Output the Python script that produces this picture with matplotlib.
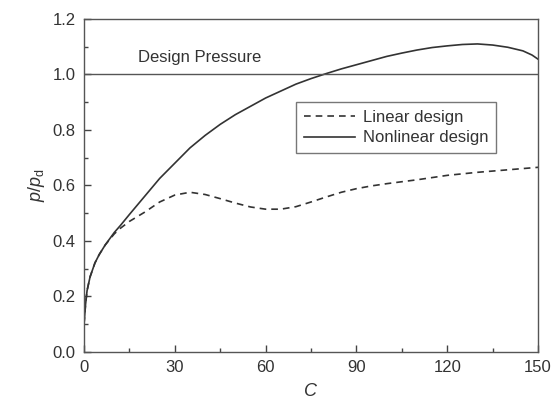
import matplotlib
matplotlib.use("Agg")
import matplotlib.pyplot as plt
import numpy as np

plt.rcParams['font.family'] = ['Liberation Sans', 'DejaVu Sans']
plt.rcParams['mathtext.fontset'] = 'custom'
plt.rcParams['mathtext.it'] = 'Liberation Sans:italic'
plt.rcParams['mathtext.rm'] = 'Liberation Sans'

# Nonlinear design (solid)
c_nonlin = [0, 0.5, 1, 2, 3.6, 5, 7, 10, 12, 15, 20, 25, 30, 35, 40, 45, 50, 55, 60, 65,
            70, 75, 80, 85, 90, 95, 100, 105, 110, 115, 120, 125, 130, 135, 140, 145, 148, 150]
p_nonlin = [0.10, 0.17, 0.22, 0.27, 0.32, 0.35, 0.385, 0.43, 0.455, 0.495, 0.56, 0.625,
            0.68, 0.735, 0.78, 0.82, 0.855, 0.885, 0.915, 0.94, 0.965, 0.985, 1.003, 1.02,
            1.035, 1.05, 1.065, 1.077, 1.088, 1.097, 1.103, 1.108, 1.11, 1.106, 1.098,
            1.085, 1.07, 1.055]

# Linear design (dashed)
c_lin = [0, 0.5, 1, 2, 3.6, 5, 7, 10, 12, 15, 20, 25, 30, 35, 40, 45, 50, 55, 60, 65,
         70, 75, 80, 85, 90, 95, 100, 110, 120, 130, 140, 150]
p_lin = [0.10, 0.17, 0.22, 0.27, 0.32, 0.35, 0.385, 0.425, 0.445, 0.47, 0.503, 0.54,
         0.565, 0.575, 0.567, 0.552, 0.536, 0.522, 0.514, 0.514, 0.523, 0.54, 0.558,
         0.575, 0.588, 0.598, 0.606, 0.62, 0.636, 0.647, 0.656, 0.665]

design_pressure = 1.0

fig = plt.figure(figsize=(5.51, 4.03), dpi=100)
ax = fig.add_axes([0.1525, 0.1273, 0.824, 0.8256])

ax.plot(c_lin, p_lin, color='#333333', lw=1.2, ls=(0, (4, 3)), label='Linear design')
ax.plot(c_nonlin, p_nonlin, color='#333333', lw=1.2, ls='-', label='Nonlinear design')
ax.axhline(design_pressure, color='#555555', lw=1.0)
ax.text(17.8, 1.035, 'Design Pressure', fontsize=12, color='#333333', va='bottom', ha='left')

ax.set_xlim(0, 150)
ax.set_ylim(0, 1.2)
ax.set_xticks(np.arange(0, 151, 30))
ax.set_xticks(np.arange(15, 151, 30), minor=True)
ax.set_yticks(np.arange(0, 1.21, 0.2))
ax.set_yticks(np.arange(0.1, 1.2, 0.2), minor=True)
ax.set_yticklabels(['0.0', '0.2', '0.4', '0.6', '0.8', '1.0', '1.2'])
ax.tick_params(which='major', direction='in', length=5, width=1, colors='#444444',
               labelsize=12, labelcolor='#333333', top=False, right=False, pad=6)
ax.tick_params(which='minor', direction='in', length=3, width=1, colors='#444444',
               top=False, right=False)
for s in ax.spines.values():
    s.set_color('#555555')
    s.set_linewidth(1.0)

ax.set_xlabel('$C$', fontsize=13, color='#333333', labelpad=6)
ax.set_ylabel('$p/p_{\\mathrm{d}}$', fontsize=13, color='#333333', labelpad=4)

leg = ax.legend(loc='upper left', bbox_to_anchor=(0.467, 0.75), borderaxespad=0,
                fontsize=12, frameon=True, fancybox=False, edgecolor='#555555',
                handlelength=3.1, handletextpad=0.45, borderpad=0.45, labelspacing=0.35)
leg.get_frame().set_linewidth(1.0)
for t in leg.get_texts():
    t.set_color('#333333')

fig.savefig('out.png', dpi=100)
